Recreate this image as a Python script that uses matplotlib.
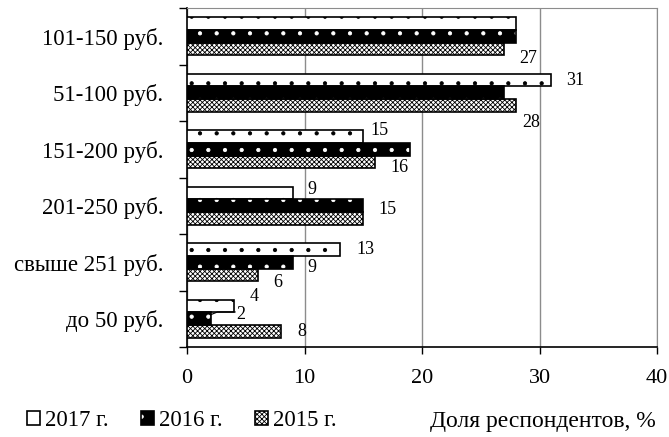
import numpy as np
import matplotlib.pyplot as plt
from matplotlib.patches import Patch
from matplotlib.legend_handler import HandlerTuple

plt.rcParams['font.family'] = ['Liberation Serif', 'DejaVu Serif']
plt.rcParams['hatch.linewidth'] = 0.6

# price groups, top to bottom
categories = ['101-150 руб.', '51-100 руб.', '151-200 руб.', '201-250 руб.',
              'свыше 251 руб.', 'до 50 руб.']
y2017 = [28, 31, 15, 9, 13, 4]
y2016 = [28, 27, 19, 15, 9, 2]
y2015 = [27, 28, 16, 15, 6, 8]
years = ['2017 г.', '2016 г.', '2015 г.']

# which values get a label: (category index, series index, dx, dy)
labels = [(0, 2, 2.0, 0.16), (1, 0, 2.0, 0.0), (1, 2, 1.3, 0.31),
          (2, 0, 1.4, -0.1), (2, 2, 2.1, 0.1), (3, 0, 1.6, -0.07),
          (3, 1, 2.1, 0.06), (4, 0, 2.15, 0.0), (4, 1, 1.6, 0.1),
          (4, 2, 1.74, 0.125), (5, 0, 1.7, -0.16), (5, 1, 2.6, -0.084),
          (5, 2, 1.8, 0.0)]

fig = plt.figure(figsize=(6.69, 4.37), dpi=100)
ax = fig.add_axes([187/669, 1-347/437, 470/669, 339/437])

y = np.arange(len(categories))
h = 0.225
offs = [-h, 0, h]
series = [y2017, y2016, y2015]

ax.barh(y + offs[0], y2017, h, color='white', edgecolor='black',
        hatch='.', linewidth=1.2, zorder=3)
ax.barh(y + offs[1], y2016, h, color='black', edgecolor='white',
        hatch='.', linewidth=0, zorder=3)
ax.barh(y + offs[1], y2016, h, fill=False, edgecolor='black',
        linewidth=1.2, zorder=4)
ax.barh(y + offs[2], y2015, h, color='white', edgecolor='black',
        hatch='xxxxxxx', linewidth=1.2, zorder=3)

for ci, si, dx, dy in labels:
    v = series[si][ci]
    ax.text(v + dx, ci + offs[si] + dy, str(v), fontsize=13,
            ha='center', va='center', zorder=5)

# leader line for the small 2016 value in the last group
v = y2016[5]
ax.plot([v, v + 0.6, v + 2.1], [5 - 0.07, 5 - 0.12, 5 - 0.12],
        color='black', lw=0.8, zorder=5)

ax.set_xlim(0, 40)
ax.set_ylim(len(categories) - 0.5, -0.5)
ax.set_xticks([0, 10, 20, 30, 40])
ax.set_yticks(y)
ax.set_yticklabels(categories, fontsize=16.5)
ax.set_yticks(np.arange(-0.5, len(categories)), minor=True)
ax.tick_params(axis='y', which='major', length=0, pad=17)
ax.tick_params(axis='y', which='minor', length=6, width=1, direction='out')
ax.tick_params(axis='x', length=5, width=1, direction='out', labelsize=16, pad=11)
ax.xaxis.grid(True, color='#8c8c8c', lw=1)
ax.set_axisbelow(True)
for s in ['top', 'right']:
    ax.spines[s].set_color('#8c8c8c')
for s in ['left', 'bottom']:
    ax.spines[s].set_linewidth(1.2)

handles = [Patch(facecolor='white', edgecolor='black', hatch='.', lw=1.2),
           (Patch(facecolor='black', edgecolor='white', hatch='.', lw=0),
            Patch(fill=False, edgecolor='black', lw=1.2)),
           Patch(facecolor='white', edgecolor='black', hatch='xxxxxxx', lw=1.2)]
fig.legend(handles, years, loc='center left', bbox_to_anchor=(27/669, 1-421/437),
           ncol=3, frameon=False, fontsize=16.5, handlelength=0.55, handleheight=0.55,
           handletextpad=0.25, columnspacing=1.4, borderaxespad=0, borderpad=0,
           handler_map={tuple: HandlerTuple(ndivide=1)})
fig.text(656/669, 1-421/437, 'Доля респондентов, %', fontsize=17,
         ha='right', va='center')

fig.savefig('out.png', dpi=100)
